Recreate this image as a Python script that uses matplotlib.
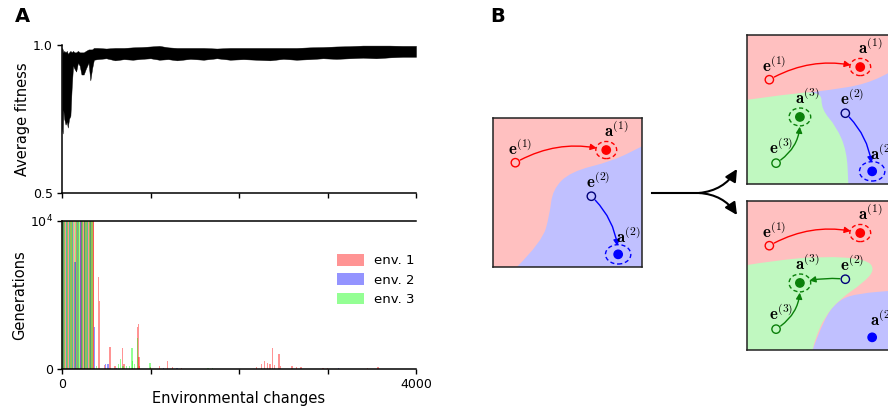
import numpy as np
import matplotlib.pyplot as plt
from matplotlib.patches import Circle, Ellipse, FancyArrowPatch, PathPatch
from matplotlib.path import Path

# ---- panel A, top: average fitness (band) ----
fit_x = [0, 8, 15, 25, 40, 55, 65, 80, 95, 110, 125, 140, 160, 180, 200, 220, 245, 270,
         300, 320, 340, 360, 400, 500, 600, 700, 800, 900, 1000, 1100, 1200, 1300, 1450,
         1600, 1750, 1900, 2050, 2200, 2350, 2500, 2650, 2800, 2950, 3100, 3250, 3400,
         3550, 3700, 3850, 4000]
fit_hi = [0.99, 0.985, 0.975, 0.98, 0.975, 0.98, 0.97, 0.975, 0.98, 0.975, 0.98, 0.975,
          0.975, 0.98, 0.975, 0.975, 0.975, 0.98, 0.985, 0.985, 0.985, 0.99, 0.99, 0.988,
          0.99, 0.99, 0.992, 0.993, 0.995, 0.997, 0.992, 0.99, 0.99, 0.99, 0.988, 0.99,
          0.99, 0.99, 0.99, 0.99, 0.99, 0.992, 0.993, 0.995, 0.996, 0.998, 0.998, 0.998,
          0.997, 0.997]
fit_lo = [0.72, 0.70, 0.78, 0.75, 0.73, 0.74, 0.72, 0.75, 0.76, 0.86, 0.93, 0.92, 0.91,
          0.94, 0.93, 0.90, 0.90, 0.92, 0.94, 0.88, 0.92, 0.95, 0.952, 0.955, 0.948,
          0.952, 0.95, 0.953, 0.955, 0.95, 0.952, 0.948, 0.953, 0.95, 0.955, 0.95, 0.952,
          0.95, 0.948, 0.953, 0.95, 0.952, 0.955, 0.953, 0.955, 0.957, 0.955, 0.958,
          0.96, 0.96]

# ---- panel A, bottom: generations per environmental change ----
red_x = [5, 22, 40, 58, 75, 92, 110, 128, 150, 168, 188, 205, 225, 242, 260, 280, 298,
         316, 334, 350, 360,
         411, 425, 480, 542, 600, 685, 700, 850, 862, 870, 880, 1000, 1100, 1190, 1250,
         1350, 2200, 2250, 2286, 2320, 2350, 2380, 2400, 2452, 2470, 2600, 2650, 2700,
         2950, 3000, 3450, 3570]
red_h = [1e4] * 21 + [6200, 4600, 250, 1470, 150, 1400, 300, 2780, 3050, 800, 150, 100,
                      150, 500, 100, 60, 80, 300, 520, 400, 300, 1380, 250, 970, 150, 150,
                      80, 120, 60, 40, 60, 80]
blue_x = [15, 48, 82, 118, 147, 178, 215, 250, 290, 325, 365,
          490, 510, 525, 620, 1150, 1300, 3120]
blue_h = [1e4, 1e4, 1e4, 1e4, 7200, 1e4, 1e4, 1e4, 1e4, 1e4, 2830,
          280, 320, 300, 50, 50, 40, 60]
green_x = [10, 30, 50, 66, 86, 102, 120, 138, 160, 182, 198, 218, 235, 252, 270, 290,
           308, 328, 345,
           390, 640, 665, 690, 730, 760, 790, 800, 820, 855, 994, 1650, 1700]
green_h = [1e4] * 19 + [150, 300, 640, 200, 150, 200, 1400, 500, 300, 2050, 350, 60, 50]

W, H = 888, 408
fig = plt.figure(figsize=(W / 100, H / 100), dpi=100)

def px_axes(l, t, r, b):
    return fig.add_axes([l / W, (H - b) / H, (r - l) / W, (b - t) / H])

ax1 = px_axes(62, 45, 416, 192.5)
ax1.fill_between(fit_x, fit_lo, fit_hi, color='black', lw=0.3)
ax1.set_xlim(0, 4000)
ax1.set_ylim(0.5, 1.0)
ax1.set_xticks([0, 1000, 2000, 3000, 4000])
ax1.set_xticklabels([])
ax1.set_yticks([0.5, 1.0])
ax1.set_ylabel('Average fitness', fontsize=10.5, labelpad=2)

ax2 = px_axes(62, 221, 416, 368.5)
ax2.bar(red_x, red_h, width=14, color='red', alpha=0.42, lw=0, label='env. 1')
ax2.bar(blue_x, blue_h, width=14, color='blue', alpha=0.42, lw=0, label='env. 2')
ax2.bar(green_x, green_h, width=14, color='lime', alpha=0.42, lw=0, label='env. 3')
ax2.set_xlim(0, 4000)
ax2.set_ylim(0, 1e4)
ax2.set_xticks([0, 1000, 2000, 3000, 4000])
ax2.set_xticklabels(['0', '', '', '', '4000'])
ax2.set_yticks([0, 1e4])
ax2.set_yticklabels(['0', '$10^4$'])
ax2.set_xlabel('Environmental changes', fontsize=10.5, labelpad=0)
ax2.set_ylabel('Generations', fontsize=10.5, labelpad=2)
ax2.legend(loc='center right', bbox_to_anchor=(1.03, 0.6), frameon=False, fontsize=9.5,
           handlelength=2.0, handleheight=1.0, labelspacing=0.45, handletextpad=0.8)

for ax in (ax1, ax2):
    ax.spines['right'].set_visible(False)
    ax.spines['top'].set_visible(ax is ax2)
    for s in ax.spines.values():
        s.set_linewidth(1.1)
    ax.tick_params(labelsize=9, width=1, length=3.5, pad=3)

fig.text(15 / W, 1 - 17 / H, 'A', fontsize=14, fontweight='bold', va='center')
fig.text(490 / W, 1 - 17 / H, 'B', fontsize=14, fontweight='bold', va='center')

# ---- panel B: schematic ----
PINK, LBLUE, LGREEN = '#ffc0c0', '#c0c0ff', '#c0f8c0'
RED, BLUE, DBLUE, GREEN = '#ff0000', '#0000ff', '#00007a', '#0a800a'

pos = {'e1': (0.15, 0.70), 'a1': (0.76, 0.785), 'e2': (0.66, 0.475),
       'a2': (0.84, 0.085), 'a3': (0.355, 0.45), 'e3': (0.195, 0.14)}
lab_off = {'e1': (0.035, 0.09), 'a1': (0.07, 0.125), 'e2': (0.045, 0.095),
           'a2': (0.07, 0.12), 'a3': (0.05, 0.125), 'e3': (0.035, 0.105)}
ring = {'a1': (0.14, 0.115), 'a2': (0.17, 0.13), 'a3': (0.145, 0.12)}

def region(ax, curve, corners, color):
    verts, codes = [curve[0]], [Path.MOVETO]
    for i in range(1, len(curve) - 1):
        mid = ((curve[i][0] + curve[i + 1][0]) / 2, (curve[i][1] + curve[i + 1][1]) / 2)
        verts += [curve[i], mid]
        codes += [Path.CURVE3, Path.CURVE3]
    verts.append(curve[-1]); codes.append(Path.LINETO)
    for c in corners:
        verts.append(c); codes.append(Path.LINETO)
    verts.append(curve[0]); codes.append(Path.CLOSEPOLY)
    ax.add_patch(PathPatch(Path(verts, codes), fc=color, ec='none', zorder=1))

def point(ax, key, color, filled, dashed=False, ecolor=None):
    x, y = pos[key]
    if filled:
        ax.add_patch(Circle((x, y), 0.028, fc=color, ec=color, lw=1, zorder=4))
    else:
        ax.add_patch(Circle((x, y), 0.028, fc='none', ec=ecolor or color, lw=1, zorder=4))
    if dashed:
        w, h = ring[key]
        ax.add_patch(Ellipse((x, y), w, h, fc='none', ec=color, lw=1,
                             ls=(0, (3, 2)), zorder=4))
    dx, dy = lab_off[key]
    name = r'$\mathbf{%s}^{(%s)}$' % (key[0], key[1])
    ax.text(x + dx, y + dy, name, fontsize=12, ha='center', va='center',
            math_fontfamily='cm', zorder=5)

def arrow(ax, a, b, color, rad, shrinkB=7):
    ax.add_patch(FancyArrowPatch(pos[a], pos[b], connectionstyle='arc3,rad=%s' % rad,
                                 arrowstyle='-|>', mutation_scale=9, lw=1, color=color,
                                 shrinkA=4, shrinkB=shrinkB, zorder=3))

def box(l, t):
    ax = px_axes(l, t, l + 149, t + 149)
    ax.set_xlim(0, 1)
    ax.set_ylim(0, 1)
    ax.set_xticks([])
    ax.set_yticks([])
    for s in ax.spines.values():
        s.set_linewidth(1.1)
        s.set_color('#222222')
    return ax

# box 1: two environments
b1 = box(493, 118)
b1.set_facecolor(PINK)
region(b1, [(0.16, 0.0), (0.33, 0.17), (0.38, 0.35), (0.40, 0.52), (0.52, 0.64),
            (0.80, 0.71), (1.0, 0.81)], [(1.0, 0.0)], LBLUE)
point(b1, 'e1', RED, False)
point(b1, 'a1', RED, True, dashed=True)
point(b1, 'e2', BLUE, False, ecolor=DBLUE)
point(b1, 'a2', BLUE, True, dashed=True)
arrow(b1, 'e1', 'a1', RED, -0.2)
arrow(b1, 'e2', 'a2', BLUE, -0.2, shrinkB=6)

# box 2: third environment between the others
b2 = box(747, 35)
b2.set_facecolor(LBLUE)
region(b2, [(0.0, 0.56), (0.30, 0.60), (0.55, 0.63), (0.80, 0.67), (1.0, 0.77)],
       [(1.0, 1.0), (0.0, 1.0)], PINK)
region(b2, [(0.0, 0.565), (0.25, 0.60), (0.50, 0.625), (0.50, 0.50), (0.60, 0.385),
            (0.67, 0.22), (0.68, 0.0)], [(0.0, 0.0)], LGREEN)
point(b2, 'e1', RED, False)
point(b2, 'a1', RED, True, dashed=True)
point(b2, 'e2', BLUE, False, ecolor=DBLUE)
point(b2, 'a2', BLUE, True, dashed=True)
point(b2, 'e3', GREEN, False)
point(b2, 'a3', GREEN, True, dashed=True)
arrow(b2, 'e1', 'a1', RED, -0.2)
arrow(b2, 'e2', 'a2', BLUE, -0.2, shrinkB=6)
arrow(b2, 'e3', 'a3', GREEN, 0.3)

# box 3: third environment takes over e2
b3 = box(747, 201)
b3.set_facecolor(PINK)
region(b3, [(0.44, 0.0), (0.52, 0.22), (0.62, 0.34), (0.75, 0.38), (1.0, 0.40)],
       [(1.0, 0.0)], LBLUE)
region(b3, [(0.0, 0.57), (0.18, 0.60), (0.51, 0.63), (0.80, 0.61), (0.86, 0.54),
            (0.78, 0.45), (0.62, 0.34), (0.52, 0.22), (0.46, 0.08), (0.44, 0.0)],
       [(0.0, 0.0)], LGREEN)
point(b3, 'e1', RED, False)
point(b3, 'a1', RED, True, dashed=True)
point(b3, 'e2', BLUE, False, ecolor=DBLUE)
point(b3, 'a2', BLUE, True)
point(b3, 'e3', GREEN, False)
point(b3, 'a3', GREEN, True, dashed=True)
arrow(b3, 'e1', 'a1', RED, -0.2)
arrow(b3, 'e2', 'a3', GREEN, 0.1)
arrow(b3, 'e3', 'a3', GREEN, 0.3)

# branching arrow between the boxes
ov = fig.add_axes([0, 0, 1, 1], zorder=-1)
ov.set_xlim(0, W)
ov.set_ylim(H, 0)
ov.axis('off')
ov.plot([652, 700], [193, 193], color='black', lw=1.5)
for tip, rad in [((737, 169), 0.25), ((737, 215), -0.25)]:
    ov.add_patch(FancyArrowPatch((699, 193), tip, connectionstyle='arc3,rad=%s' % rad,
                                 arrowstyle='-|>', mutation_scale=18, lw=1.5,
                                 color='black', shrinkA=0, shrinkB=0))

fig.savefig('out.png', dpi=100)
